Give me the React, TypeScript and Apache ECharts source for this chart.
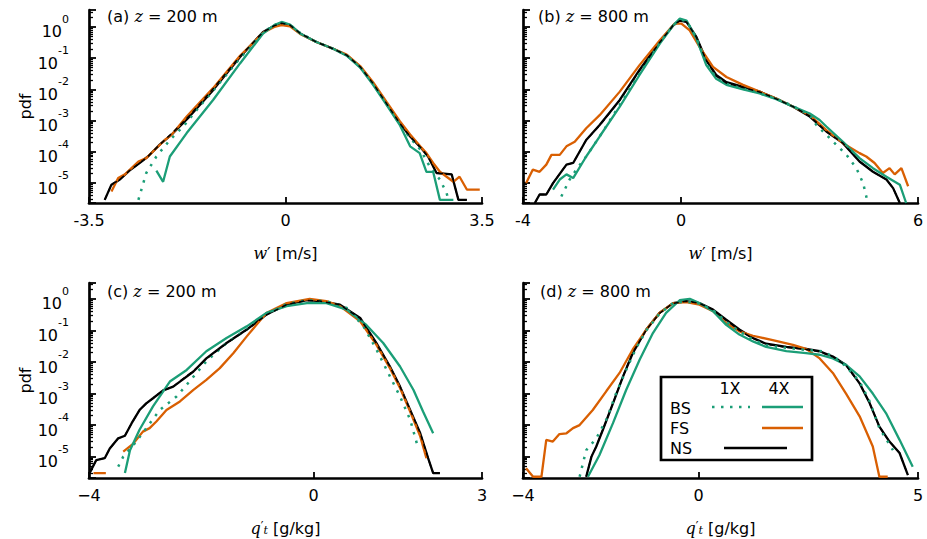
import React, { useEffect, useRef } from 'react';
import * as echarts from 'echarts';

const GREEN = '#1b9e77';
const ORANGE = '#d95f02';
const FONT = 'DejaVu Sans';

type Pt = [number, number];

// (a) w' at z = 200 m
const aNS4: Pt[] = [[-3.22, 2.9e-6], [-3.1, 8.9e-6], [-2.95, 1.3e-5], [-2.78, 2.5e-5], [-2.6, 4.4e-5], [-2.45, 7.1e-5], [-2.24, 1.7e-4], [-2.0, 4.0e-4], [-1.71, 1.35e-3], [-1.29, 9.5e-3], [-0.81, 0.11], [-0.4, 0.69], [-0.2, 1.1], [-0.07, 1.35], [0.08, 1.15], [0.26, 0.62], [0.55, 0.33], [0.85, 0.2], [1.09, 0.125], [1.33, 0.053], [1.56, 0.0155], [1.8, 3.6e-3], [2.04, 8.1e-4], [2.22, 3.1e-4], [2.42, 1.3e-4], [2.54, 7.1e-5], [2.69, 2.1e-5], [2.96, 1.9e-5], [3.08, 2.9e-6], [3.23, 2.9e-6]];
const aNS1: Pt[] = [[-3.22, 2.9e-6], [-3.1, 8.9e-6], [-2.95, 1.3e-5], [-2.78, 2.5e-5], [-2.6, 4.4e-5], [-2.45, 7.1e-5], [-2.24, 1.7e-4], [-2.0, 4.3e-4], [-1.71, 1.45e-3], [-1.29, 0.0105], [-0.81, 0.115], [-0.4, 0.68], [-0.2, 1.1], [-0.07, 1.32], [0.08, 1.15], [0.26, 0.63], [0.55, 0.33], [0.85, 0.2], [1.09, 0.125], [1.33, 0.053], [1.56, 0.0155], [1.8, 3.5e-3], [2.04, 8.0e-4], [2.22, 3.1e-4], [2.42, 1.3e-4], [2.54, 7.1e-5], [2.69, 2.1e-5], [2.96, 1.9e-5], [3.08, 2.9e-6], [3.23, 2.9e-6]];
const aFS4: Pt[] = [[-3.1, 5.4e-6], [-2.98, 1.45e-5], [-2.86, 1.9e-5], [-2.62, 4.9e-5], [-2.48, 6.3e-5], [-2.3, 1.3e-4], [-2.15, 2.4e-4], [-2.03, 3.5e-4], [-1.76, 1.35e-3], [-1.29, 0.011], [-0.81, 0.12], [-0.4, 0.65], [-0.2, 1.0], [-0.07, 1.15], [0.08, 1.05], [0.26, 0.6], [0.55, 0.33], [0.85, 0.2], [1.09, 0.13], [1.33, 0.056], [1.56, 0.017], [1.8, 4.0e-3], [2.04, 9.5e-4], [2.22, 3.6e-4], [2.4, 1.5e-4], [2.51, 9.1e-5], [2.63, 4.4e-5], [2.75, 2.3e-5], [2.99, 1.1e-5], [3.1, 1.6e-5], [3.23, 6.2e-6], [3.46, 6.2e-6]];
const aBS1: Pt[] = [[-2.62, 2.9e-6], [-2.48, 2.1e-5], [-2.3, 7.1e-5], [-2.06, 2.4e-4], [-1.82, 6.5e-4], [-1.5, 3.3e-3], [-1.29, 9.0e-3], [-0.81, 0.1], [-0.4, 0.68], [-0.2, 1.15], [-0.07, 1.38], [0.08, 1.18], [0.26, 0.65], [0.55, 0.33], [0.85, 0.2], [1.09, 0.125], [1.33, 0.052], [1.56, 0.015], [1.8, 3.4e-3], [2.04, 7.5e-4], [2.22, 2.8e-4], [2.4, 1.2e-4], [2.57, 3.4e-5], [2.75, 1.3e-5], [2.87, 4.8e-6], [2.9, 2.9e-6]];
const aBS4: Pt[] = [[-2.3, 2.5e-5], [-2.18, 1.1e-5], [-2.06, 7.1e-5], [-1.76, 4.0e-4], [-1.29, 4.6e-3], [-0.81, 0.068], [-0.4, 0.62], [-0.2, 1.15], [-0.07, 1.45], [0.08, 1.2], [0.26, 0.62], [0.55, 0.33], [0.85, 0.2], [1.09, 0.12], [1.33, 0.05], [1.56, 0.014], [1.8, 3.2e-3], [2.04, 7.0e-4], [2.22, 1.5e-4], [2.39, 9.1e-5], [2.51, 2.3e-5], [2.63, 2.3e-5], [2.75, 2.9e-6], [2.99, 2.9e-6]];

// (b) w' at z = 800 m
const bNS4: Pt[] = [[-3.7, 2.3e-6], [-3.58, 4.3e-6], [-3.41, 4.3e-6], [-3.24, 1.0e-5], [-2.9, 3.9e-5], [-2.73, 4.4e-5], [-2.4, 2.4e-4], [-2.06, 7.2e-4], [-1.55, 4.6e-3], [-1.05, 0.042], [-0.54, 0.33], [-0.2, 1.12], [-0.03, 1.6], [0.14, 1.45], [0.39, 0.48], [0.64, 0.087], [0.89, 0.029], [1.15, 0.017], [1.57, 0.012], [1.99, 8.5e-3], [2.41, 5.1e-3], [2.84, 2.8e-3], [3.26, 1.35e-3], [3.68, 4.5e-4], [4.1, 1.9e-4], [4.52, 4.9e-5], [4.86, 2.3e-5], [5.2, 1.3e-5], [5.37, 6.9e-6], [5.54, 2.3e-6]];
const bNS1: Pt[] = [[-3.7, 2.3e-6], [-3.58, 4.3e-6], [-3.41, 4.3e-6], [-3.24, 1.0e-5], [-2.9, 3.9e-5], [-2.73, 4.4e-5], [-2.4, 2.4e-4], [-2.06, 7.0e-4], [-1.55, 4.5e-3], [-1.05, 0.04], [-0.54, 0.32], [-0.2, 1.12], [-0.03, 1.6], [0.14, 1.45], [0.39, 0.47], [0.64, 0.085], [0.89, 0.027], [1.15, 0.016], [1.57, 0.0115], [1.99, 8.3e-3], [2.41, 5.0e-3], [2.84, 2.8e-3], [3.26, 1.4e-3], [3.68, 4.5e-4], [4.1, 1.9e-4], [4.52, 4.9e-5], [4.86, 2.3e-5], [5.2, 1.3e-5], [5.37, 6.9e-6], [5.54, 2.3e-6]];
const bFS4: Pt[] = [[-3.92, 1.0e-5], [-3.75, 2.7e-5], [-3.58, 2.3e-5], [-3.41, 3.9e-5], [-3.28, 8.0e-5], [-3.07, 8.0e-5], [-2.9, 1.5e-4], [-2.69, 2.1e-4], [-2.4, 5.7e-4], [-2.06, 1.5e-3], [-1.55, 8.5e-3], [-1.05, 0.06], [-0.54, 0.37], [-0.16, 1.28], [0.01, 1.28], [0.22, 0.78], [0.47, 0.23], [0.81, 0.053], [1.15, 0.025], [1.57, 0.014], [1.99, 8.5e-3], [2.41, 5.1e-3], [2.84, 2.8e-3], [3.26, 1.5e-3], [3.68, 5.0e-4], [4.1, 1.9e-4], [4.52, 9.1e-5], [4.69, 7.1e-5], [4.9, 4.4e-5], [5.11, 2.1e-5], [5.28, 3.0e-5], [5.41, 1.9e-5], [5.58, 3.0e-5], [5.75, 7.9e-6]];
const bBS1: Pt[] = [[-3.03, 3.7e-6], [-2.82, 1.3e-5], [-2.65, 2.7e-5], [-2.4, 7.1e-5], [-2.06, 3.1e-4], [-1.55, 3.2e-3], [-1.05, 0.032], [-0.54, 0.31], [-0.2, 1.12], [-0.03, 1.75], [0.14, 1.55], [0.39, 0.45], [0.64, 0.067], [0.89, 0.024], [1.15, 0.015], [1.57, 0.0105], [1.99, 7.6e-3], [2.41, 5.0e-3], [2.84, 2.9e-3], [3.26, 1.5e-3], [3.43, 7.2e-4], [3.68, 3.5e-4], [3.93, 1.7e-4], [4.19, 8.0e-5], [4.44, 3.0e-5], [4.61, 1.0e-5], [4.73, 2.3e-6]];
const bBS4: Pt[] = [[-3.24, 6.2e-6], [-3.07, 1.3e-5], [-2.9, 1.9e-5], [-2.73, 1.45e-5], [-2.4, 7.1e-5], [-2.06, 3.1e-4], [-1.55, 2.8e-3], [-1.05, 0.029], [-0.54, 0.29], [-0.2, 1.12], [-0.03, 1.85], [0.14, 1.6], [0.39, 0.43], [0.64, 0.06], [0.89, 0.022], [1.15, 0.014], [1.57, 0.01], [1.99, 7.4e-3], [2.41, 4.9e-3], [2.84, 2.8e-3], [3.26, 1.7e-3], [3.51, 1.05e-3], [3.68, 6.5e-4], [4.1, 2.1e-4], [4.52, 6.3e-5], [4.86, 3.0e-5], [5.2, 1.6e-5], [5.54, 8.9e-6], [5.7, 2.3e-6]];

// (c) q_t' at z = 200 m
const cNS4: Pt[] = [[-3.99, 3.0e-6], [-3.87, 7.8e-6], [-3.72, 8.9e-6], [-3.63, 1.8e-5], [-3.48, 3.8e-5], [-3.36, 4.6e-5], [-3.24, 1.15e-4], [-3.1, 3.0e-4], [-2.98, 4.9e-4], [-2.86, 7.1e-4], [-2.68, 1.26e-3], [-2.5, 1.66e-3], [-2.38, 2.4e-3], [-2.14, 5.0e-3], [-1.91, 0.013], [-1.55, 0.04], [-1.19, 0.107], [-0.84, 0.32], [-0.48, 0.66], [-0.12, 0.91], [0.11, 0.85], [0.47, 0.66], [0.83, 0.25], [1.12, 0.04], [1.36, 7.2e-3], [1.54, 1.66e-3], [1.72, 3.0e-4], [1.9, 5.5e-5], [2.04, 8.9e-6], [2.13, 3.0e-6], [2.25, 3.0e-6]];
const cNS1: Pt[] = [[-3.99, 3.0e-6], [-3.87, 7.8e-6], [-3.72, 8.9e-6], [-3.63, 1.8e-5], [-3.48, 3.8e-5], [-3.36, 4.6e-5], [-3.24, 1.15e-4], [-3.1, 3.0e-4], [-2.98, 4.9e-4], [-2.86, 7.1e-4], [-2.68, 1.26e-3], [-2.5, 1.66e-3], [-2.38, 2.5e-3], [-2.14, 5.2e-3], [-1.91, 0.0125], [-1.55, 0.039], [-1.19, 0.105], [-0.84, 0.31], [-0.48, 0.66], [-0.12, 0.9], [0.11, 0.86], [0.47, 0.65], [0.83, 0.24], [1.12, 0.038], [1.36, 7.2e-3], [1.54, 1.66e-3], [1.72, 3.0e-4], [1.9, 5.5e-5], [2.04, 8.9e-6], [2.13, 3.0e-6], [2.25, 3.0e-6]];
const cFS4a: Pt[] = [[-3.92, 3.0e-6], [-3.7, 3.0e-6]];
const cFS4: Pt[] = [[-3.39, 1.45e-5], [-3.21, 2.6e-5], [-3.04, 6.2e-5], [-2.92, 8.0e-5], [-2.8, 1.3e-4], [-2.62, 3.0e-4], [-2.38, 5.6e-4], [-2.14, 1.3e-3], [-1.91, 2.7e-3], [-1.67, 6.4e-3], [-1.43, 0.019], [-1.19, 0.065], [-0.84, 0.36], [-0.48, 0.74], [-0.07, 1.0], [0.23, 0.85], [0.47, 0.59], [0.83, 0.195], [1.12, 0.035], [1.36, 6.4e-3], [1.54, 1.5e-3], [1.72, 2.7e-4], [1.9, 4.4e-5], [2.01, 8.9e-6]];
const cBS1: Pt[] = [[-3.48, 4.8e-6], [-3.39, 1.0e-5], [-3.21, 2.3e-5], [-2.98, 8.0e-5], [-2.74, 3.0e-4], [-2.44, 8.1e-4], [-2.26, 1.9e-3], [-1.91, 0.0105], [-1.55, 0.04], [-1.19, 0.11], [-0.84, 0.33], [-0.48, 0.69], [-0.12, 0.91], [0.23, 0.85], [0.59, 0.52], [0.89, 0.135], [1.12, 0.025], [1.36, 3.5e-3], [1.54, 8.1e-4], [1.72, 1.5e-4], [1.84, 2.6e-5]];
const cBS4: Pt[] = [[-3.36, 3.0e-6], [-3.27, 1.6e-5], [-3.1, 7.1e-5], [-2.86, 3.9e-4], [-2.56, 2.4e-3], [-2.26, 5.6e-3], [-1.91, 0.022], [-1.55, 0.058], [-1.19, 0.135], [-0.84, 0.36], [-0.48, 0.59], [-0.12, 0.74], [0.23, 0.74], [0.59, 0.46], [0.94, 0.15], [1.24, 0.04], [1.54, 7.2e-3], [1.78, 1.3e-3], [1.95, 2.7e-4], [2.13, 5.5e-5]];

// (d) q_t' at z = 800 m
const dNS4: Pt[] = [[-2.56, 2.3e-6], [-2.44, 1.0e-5], [-2.33, 2.1e-5], [-2.18, 7.1e-5], [-1.95, 4.9e-4], [-1.72, 3.5e-3], [-1.5, 0.019], [-1.19, 0.107], [-0.89, 0.36], [-0.58, 0.74], [-0.28, 0.85], [0.02, 0.74], [0.33, 0.46], [0.63, 0.22], [0.93, 0.107], [1.24, 0.058], [1.54, 0.038], [2.0, 0.03], [2.45, 0.026], [2.76, 0.022], [3.06, 0.015], [3.36, 8.1e-3], [3.67, 2.1e-3], [3.9, 4.9e-4], [4.12, 8.9e-5], [4.35, 3.0e-5], [4.58, 1.3e-5], [4.77, 2.6e-6]];
const dNS1: Pt[] = [[-2.56, 2.3e-6], [-2.44, 1.0e-5], [-2.33, 2.1e-5], [-2.18, 7.1e-5], [-1.95, 4.9e-4], [-1.72, 3.6e-3], [-1.5, 0.02], [-1.19, 0.105], [-0.89, 0.35], [-0.58, 0.73], [-0.28, 0.84], [0.02, 0.73], [0.33, 0.45], [0.63, 0.21], [0.93, 0.1], [1.24, 0.056], [1.54, 0.037], [2.0, 0.029], [2.45, 0.025], [2.76, 0.021], [3.06, 0.0145], [3.36, 7.8e-3], [3.67, 2.1e-3], [3.9, 4.9e-4], [4.12, 8.9e-5], [4.35, 3.0e-5], [4.58, 1.3e-5], [4.77, 2.6e-6]];
const dFS4: Pt[] = [[-3.93, 4.3e-6], [-3.77, 2.3e-6], [-3.58, 2.3e-6], [-3.47, 3.4e-5], [-3.32, 3.0e-5], [-3.17, 5.2e-5], [-3.01, 5.5e-5], [-2.86, 8.0e-5], [-2.71, 1.0e-4], [-2.41, 3.0e-4], [-2.1, 1.2e-3], [-1.8, 4.5e-3], [-1.5, 0.025], [-1.19, 0.107], [-0.89, 0.36], [-0.58, 0.74], [-0.28, 0.79], [0.02, 0.66], [0.33, 0.41], [0.63, 0.17], [0.93, 0.094], [1.24, 0.068], [1.69, 0.049], [2.15, 0.035], [2.45, 0.026], [2.76, 0.013], [3.06, 4.5e-3], [3.36, 1.0e-3], [3.67, 1.9e-4], [3.97, 2.1e-5], [4.12, 2.3e-6], [4.31, 2.3e-6]];
const dBS1: Pt[] = [[-2.71, 2.3e-6], [-2.56, 1.6e-5], [-2.33, 3.8e-5], [-2.1, 1.5e-4], [-1.88, 1.0e-3], [-1.65, 5.6e-3], [-1.42, 0.028], [-1.19, 0.1], [-0.89, 0.34], [-0.58, 0.74], [-0.28, 0.82], [0.02, 0.71], [0.33, 0.44], [0.63, 0.19], [0.93, 0.094], [1.24, 0.051], [1.54, 0.034], [2.0, 0.028], [2.45, 0.024], [2.83, 0.022], [3.14, 0.013], [3.36, 7.2e-3], [3.67, 2.4e-3], [3.9, 5.6e-4], [4.12, 8.0e-5], [4.43, 1.6e-5]];
const dBS4: Pt[] = [[-2.52, 2.3e-6], [-2.26, 1.1e-5], [-1.95, 1.15e-4], [-1.65, 1.3e-3], [-1.34, 0.012], [-1.04, 0.083], [-0.74, 0.36], [-0.43, 0.91], [-0.2, 1.0], [0.02, 0.74], [0.33, 0.41], [0.63, 0.15], [0.93, 0.074], [1.24, 0.045], [1.54, 0.03], [2.0, 0.022], [2.45, 0.019], [2.76, 0.017], [3.06, 0.013], [3.36, 8.1e-3], [3.67, 3.5e-3], [3.97, 1.0e-3], [4.27, 2.4e-4], [4.58, 3.4e-5], [4.88, 4.8e-6]];

const xRanges: [number, number][] = [[-3.5, 3.5], [-4, 6], [-4, 3], [-4, 5]];
const xTicks: number[][] = [[-3.5, 0, 3.5], [-4, 0, 6], [-4, 0, 3], [-4, 0, 5]];
const yRanges: [number, number][] = [[2.3e-6, 3.5], [2.3e-6, 3.5], [2.1e-6, 3.2], [2.1e-6, 3.2]];
const panelTitles = ['(a) ', '(b) ', '(c) ', '(d) '];
const heights = ['200', '800', '200', '800'];

const grids = [
  { left: 89, top: 10, width: 393, height: 193 },
  { left: 523, top: 10, width: 395, height: 193 },
  { left: 89, top: 283, width: 393, height: 195 },
  { left: 523, top: 283, width: 395, height: 195 },
];

const panels = [
  { ns1: aNS1, ns4: aNS4, fs4: [aFS4], bs1: aBS1, bs4: aBS4 },
  { ns1: bNS1, ns4: bNS4, fs4: [bFS4], bs1: bBS1, bs4: bBS4 },
  { ns1: cNS1, ns4: cNS4, fs4: [cFS4a, cFS4], bs1: cBS1, bs4: cBS4 },
  { ns1: dNS1, ns4: dNS4, fs4: [dFS4], bs1: dBS1, bs4: dBS4 },
];

const txt = { fontFamily: FONT, fontSize: 16, color: '#000' };

function xLabel(i: number) {
  return (v: number) => {
    if (v < 0) return (i < 2 ? '-' : '\u2212') + Math.abs(v);
    return String(v);
  };
}

function yLabel(v: number) {
  const e = Math.log10(v);
  const r = Math.round(e);
  if (Math.abs(e - r) > 1e-6) return '';
  return `{b|10}{s|${r}}`;
}

function buildOption() {
  const series: any[] = [];
  panels.forEach((p, i) => {
    const base = { type: 'line', xAxisIndex: i, yAxisIndex: i, showSymbol: false, symbol: 'none', silent: true };
    series.push({ ...base, name: 'NS 4X', data: p.ns4, z: 2, lineStyle: { color: '#000', width: 2.3 } });
    p.fs4.forEach((d) => series.push({ ...base, name: 'FS 4X', data: d, z: 3, lineStyle: { color: ORANGE, width: 2.3 } }));
    series.push({ ...base, name: 'BS 1X', data: p.bs1, z: 4, lineStyle: { color: GREEN, width: 2.5, type: [2.5, 6.5], cap: 'butt' } });
    series.push({ ...base, name: 'BS 4X', data: p.bs4, z: 5, lineStyle: { color: GREEN, width: 2.3 } });
    series.push({ ...base, name: 'NS 1X', data: p.ns1, z: 6, lineStyle: { color: '#000', width: 1.5, type: [5, 4] } });
  });

  const xAxis = grids.map((_, i) => ({
    type: 'value',
    gridIndex: i,
    min: xRanges[i][0],
    max: xRanges[i][1],
    axisLine: { onZero: false, lineStyle: { color: '#000', width: 2.7 } },
    axisTick: { customValues: xTicks[i], inside: true, length: 6, lineStyle: { color: '#000', width: 1.8 } },
    axisLabel: { customValues: xTicks[i], formatter: xLabel(i), margin: 9, ...txt },
    splitLine: { show: false },
    name: i < 2 ? '{i|w}\u2032 [m/s]' : '{i|q}{p|\u2032}{t|t} [g/kg]',
    nameLocation: 'middle',
    nameGap: 42,
    nameTextStyle: {
      ...txt,
      rich: {
        i: { ...txt, fontFamily: 'DejaVu Serif', fontStyle: 'italic' },
        p: { ...txt, fontSize: 12, verticalAlign: 'top', lineHeight: 12 },
        t: { ...txt, fontFamily: 'DejaVu Serif', fontStyle: 'italic', fontSize: 11, verticalAlign: 'bottom', lineHeight: 12 },
      },
    },
  }));

  const yAxis = grids.map((_, i) => ({
    type: 'log',
    logBase: 10,
    gridIndex: i,
    min: yRanges[i][0],
    max: yRanges[i][1],
    axisLine: { onZero: false, lineStyle: { color: '#000', width: 2.7 } },
    axisTick: { inside: true, length: 7, lineStyle: { color: '#000', width: 1.8 } },
    minorTick: { show: true, splitNumber: 9, length: 4, lineStyle: { color: '#000', width: 1.3 } },
    splitLine: { show: false },
    minorSplitLine: { show: false },
    axisLabel: {
      show: i % 2 === 0,
      formatter: yLabel,
      margin: 20,
      ...txt,
      rich: {
        b: { ...txt, verticalAlign: 'bottom', lineHeight: 26 },
        s: { ...txt, fontSize: 11, verticalAlign: 'top', lineHeight: 10 },
      },
    },
    name: i % 2 === 0 ? 'pdf' : '',
    nameLocation: 'middle',
    nameRotate: 90,
    nameGap: 52,
    nameTextStyle: txt,
  }));

  const titleLeft = [107, 538, 107, 540];
  const titleTop = [8, 8, 283, 283];
  const title = grids.map((_, i) => ({
    text: `${panelTitles[i]}{i|z} = ${heights[i]} m`,
    left: titleLeft[i],
    top: titleTop[i],
    padding: 0,
    textStyle: {
      ...txt,
      fontWeight: 'normal',
      rich: { i: { ...txt, fontFamily: 'DejaVu Serif', fontStyle: 'italic' } },
    },
  }));

  // legend box drawn by hand (two columns 1X / 4X)
  const graphic = [
    { type: 'rect', z: 100, shape: { x: 661, y: 377, width: 151, height: 83 }, style: { fill: '#fff', stroke: '#000', lineWidth: 2.7 } },
    { type: 'text', z: 101, x: 730, y: 388, style: { ...txt, text: '1X', align: 'center', verticalAlign: 'middle', fill: '#000' } },
    { type: 'text', z: 101, x: 779, y: 388, style: { ...txt, text: '4X', align: 'center', verticalAlign: 'middle', fill: '#000' } },
    { type: 'text', z: 101, x: 670, y: 408, style: { ...txt, text: 'BS', verticalAlign: 'middle', fill: '#000' } },
    { type: 'text', z: 101, x: 670, y: 428, style: { ...txt, text: 'FS', verticalAlign: 'middle', fill: '#000' } },
    { type: 'text', z: 101, x: 670, y: 448, style: { ...txt, text: 'NS', verticalAlign: 'middle', fill: '#000' } },
    { type: 'line', z: 101, shape: { x1: 712, y1: 407, x2: 750, y2: 407 }, style: { stroke: GREEN, lineWidth: 2.5, lineDash: [2.5, 6.5] } },
    { type: 'line', z: 101, shape: { x1: 762, y1: 407, x2: 803, y2: 407 }, style: { stroke: GREEN, lineWidth: 2.5 } },
    { type: 'line', z: 101, shape: { x1: 762, y1: 428, x2: 803, y2: 428 }, style: { stroke: ORANGE, lineWidth: 2.5 } },
    { type: 'line', z: 101, shape: { x1: 724, y1: 448, x2: 787, y2: 448 }, style: { stroke: '#000', lineWidth: 2.5 } },
  ];

  return { animation: false, backgroundColor: '#fff', grid: grids, xAxis, yAxis, title, series, graphic };
}

const App: React.FC = () => {
  const chartRef = useRef<HTMLDivElement>(null);

  useEffect(() => {
    if (!chartRef.current) return;
    const chart = echarts.init(chartRef.current, undefined, { renderer: 'svg' });
    chart.setOption(buildOption() as any);
    return () => {
      chart.dispose();
    };
  }, []);

  return <div ref={chartRef} style={{ position: 'absolute', left: 0, top: 0, width: 927, height: 539 }} />;
};

export default App;
